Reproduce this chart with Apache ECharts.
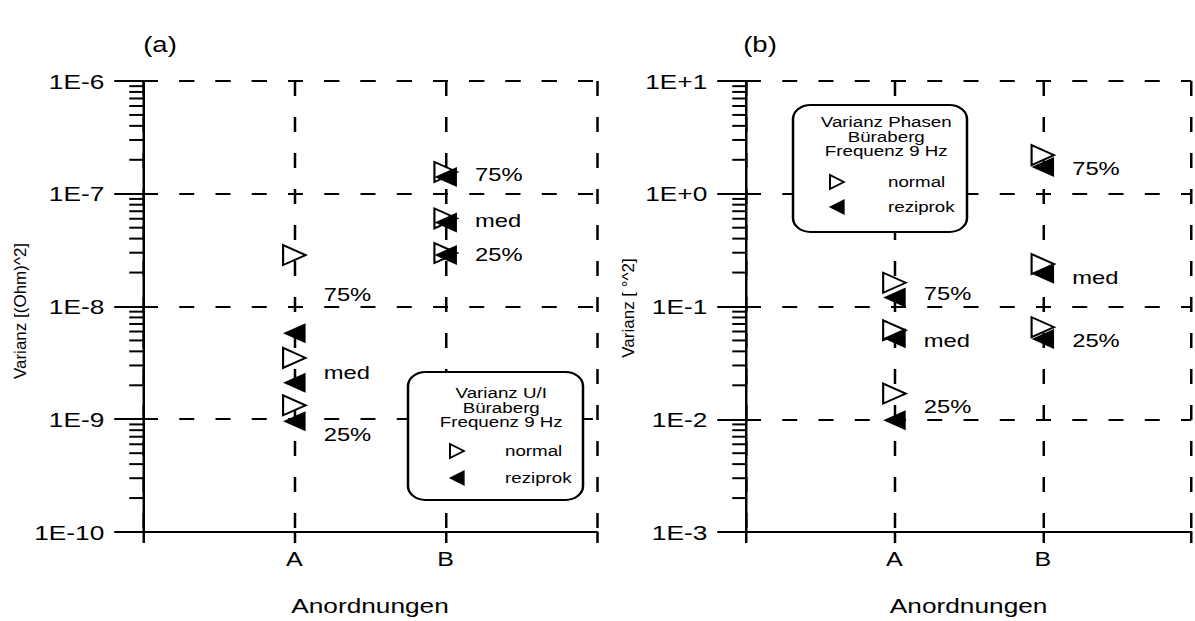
<!DOCTYPE html>
<html>
<head>
<meta charset="utf-8">
<script src="https://cdn.jsdelivr.net/npm/echarts@6/dist/echarts.min.js"></script>
<style>
  html, body { margin: 0; padding: 0; background: #fff; overflow: hidden; }
  /* the figure is drawn on a narrower canvas and widened horizontally */
  #chart { width: 956px; height: 621px; transform: scaleX(1.25); transform-origin: 0 0; }
</style>
</head>
<body>
<div id="chart"></div>
<script>
// x axis: arrangements at positions 1 and 2, frame ends at 0 and 3
const xTickLabels = ['', 'A', 'B', ''];
const quartiles = ['75%', 'med', '25%'];

// Varianz U/I [(Ohm)^2] — order: 75%, med, 25%
const uiNormalA   = [2.86e-8, 3.5e-9, 1.33e-9];
const uiReziprokA = [5.8e-9, 2.11e-9, 9.6e-10];
const uiNormalB   = [1.56e-7, 6.04e-8, 2.98e-8];
const uiReziprokB = [1.41e-7, 5.57e-8, 2.86e-8];
const uiTagA = [1.36e-8, 2.75e-9, 7.7e-10];
const uiTagB = [1.56e-7, 6.15e-8, 3.03e-8];

// Varianz Phasen [°^2] — order: 75%, med, 25%
const phNormalA   = [0.1625, 0.0615, 0.0169];
const phReziprokA = [0.12, 0.0524, 0.0098];
const phNormalB   = [2.2, 0.238, 0.0655];
const phReziprokB = [1.73, 0.195, 0.0514];
const phTagA = [0.138, 0.0524, 0.0136];
const phTagB = [1.76, 0.191, 0.0524];

// decade labels, bottom to top
const uiTickLabels = ['1E-10', '1E-9', '1E-8', '1E-7', '1E-6'];
const phTickLabels = ['1E-3', '1E-2', '1E-1', '1E+0', '1E+1'];

const FONT = "'Liberation Sans', Arial, Helvetica, sans-serif";
const SX = 1.25; // horizontal widening set in the CSS above

function xAxisFor(g) {
  return {
    type: 'value', gridIndex: g, min: 0, max: 3, interval: 1,
    axisLine: { show: true, onZero: false, lineStyle: { color: '#000', width: 2 } },
    axisTick: { show: true, length: 11, lineStyle: { color: '#000', width: 2 } },
    axisLabel: { margin: 17, color: '#000', fontSize: 20, fontFamily: FONT,
      formatter: v => xTickLabels[Math.round(v)] || '' },
    splitLine: { show: true, lineStyle: { color: '#000', width: 2, type: [15, 21] } },
    name: 'Anordnungen', nameLocation: 'middle', nameGap: 63,
    nameTextStyle: { color: '#000', fontSize: 21, fontFamily: FONT }
  };
}

function yAxisFor(g, min, max, labels) {
  const e0 = Math.round(Math.log10(min));
  return {
    type: 'log', logBase: 10, gridIndex: g, min: min, max: max,
    axisLine: { show: true, onZero: false, lineStyle: { color: '#000', width: 2 } },
    axisTick: { show: true, length: 23, lineStyle: { color: '#000', width: 2 } },
    minorTick: { show: false },
    axisLabel: { margin: 31, color: '#000', fontSize: 21, fontFamily: FONT,
      formatter: v => labels[Math.round(Math.log10(v)) - e0] || '' },
    splitLine: { show: true, lineStyle: { color: '#000', width: 2, type: [12, 17] } }
  };
}

// short ticks at 2..9 of every decade
function minorTickSeries(g, min, max) {
  const data = [];
  const lo = Math.round(Math.log10(min)), hi = Math.round(Math.log10(max));
  for (let e = lo; e < hi; e++) {
    for (let k = 2; k <= 9; k++) data.push([0, k * Math.pow(10, e)]);
  }
  return {
    type: 'custom', xAxisIndex: g, yAxisIndex: g, data: data, silent: true, clip: false, z: 5,
    renderItem: (params, api) => {
      const c = api.coord([api.value(0), api.value(1)]);
      return { type: 'line', shape: { x1: c[0] - 11, y1: c[1], x2: c[0], y2: c[1] },
               style: { stroke: '#000', lineWidth: 2 } };
    }
  };
}

function markerSeries(g, name, a, b, filled) {
  return {
    type: 'scatter', name: name, xAxisIndex: g, yAxisIndex: g,
    data: a.map(v => [1, v]).concat(b.map(v => [2, v])),
    symbol: 'triangle', symbolSize: [20, 18], symbolRotate: filled ? 90 : -90,
    itemStyle: filled ? { color: '#000', opacity: 1 }
                      : { color: '#fff', borderColor: '#000', borderWidth: 1.8, opacity: 1 },
    emphasis: { disabled: true }, silent: true, clip: false, z: filled ? 4 : 3
  };
}

function tagSeries(g, tagA, tagB) {
  const data = quartiles.map((q, i) => ({ name: q, value: [1, tagA[i]] }))
    .concat(quartiles.map((q, i) => ({ name: q, value: [2, tagB[i]] })));
  return {
    type: 'scatter', xAxisIndex: g, yAxisIndex: g, data: data,
    symbolSize: 1, itemStyle: { color: 'rgba(255,255,255,0)' }, silent: true, clip: false, z: 6,
    emphasis: { disabled: true },
    label: { show: true, position: 'right', distance: 23, offset: [0, 3], formatter: '{b}',
             color: '#000', opacity: 1, fontSize: 19, fontFamily: FONT }
  };
}

// legend panel: rounded box, three-line heading, two symbol rows
function legendBox(box, heading, headX, headY, symX, rowY, textX) {
  const els = [];
  els.push({ type: 'rect', z: 100,
    shape: { x: box[0], y: box[1], width: box[2], height: box[3], r: 14 },
    style: { fill: '#fff', stroke: '#000', lineWidth: 2 } });
  els.push({ type: 'text', z: 101, x: headX, y: headY,
    style: { text: heading.join('\n'), font: `15px ${FONT}`, lineHeight: 14.5,
             fill: '#000', align: 'center', verticalAlign: 'middle' } });
  const w = 5.6, h = 7;
  els.push({ type: 'polygon', z: 101,
    shape: { points: [[symX - w, rowY[0] - h], [symX + w, rowY[0]], [symX - w, rowY[0] + h]] },
    style: { fill: '#fff', stroke: '#000', lineWidth: 1.6 } });
  els.push({ type: 'polygon', z: 101,
    shape: { points: [[symX + w, rowY[1] - h], [symX - w, rowY[1]], [symX + w, rowY[1] + h]] },
    style: { fill: '#000', stroke: '#000', lineWidth: 1 } });
  ['normal', 'reziprok'].forEach((s, i) => els.push({ type: 'text', z: 101, x: textX, y: rowY[i],
    style: { text: s, font: `15px ${FONT}`, fill: '#000', align: 'left', verticalAlign: 'middle' } }));
  return els;
}

// rotated axis title; its glyph height is narrowed so the page widening leaves it unstretched
function verticalTitle(text, x, y) {
  return { type: 'text', z: 101, x: x, y: y, rotation: Math.PI / 2, scaleY: 1 / SX,
    style: { text: text, font: `17px ${FONT}`, fill: '#000', align: 'center', verticalAlign: 'middle' } };
}

const chart = echarts.init(document.getElementById('chart'), null, { renderer: 'svg' });

chart.setOption({
  backgroundColor: '#fff',
  animation: false,
  grid: [
    { left: 114.4, top: 81, width: 363.2, height: 456 },
    { left: 596.8, top: 81, width: 363.2, height: 456 }
  ],
  xAxis: [xAxisFor(0), xAxisFor(1)],
  yAxis: [
    yAxisFor(0, 1e-10, 1e-6, uiTickLabels),
    yAxisFor(1, 1e-3, 1e1, phTickLabels)
  ],
  series: [
    minorTickSeries(0, 1e-10, 1e-6),
    minorTickSeries(1, 1e-3, 1e1),
    markerSeries(0, 'normal', uiNormalA, uiNormalB, false),
    markerSeries(0, 'reziprok', uiReziprokA, uiReziprokB, true),
    markerSeries(1, 'normal', phNormalA, phNormalB, false),
    markerSeries(1, 'reziprok', phReziprokA, phReziprokB, true),
    tagSeries(0, uiTagA, uiTagB),
    tagSeries(1, phTagA, phTagB)
  ],
  graphic: { elements: [
    { type: 'text', z: 101, x: 128, y: 44,
      style: { text: '(a)', font: `22px ${FONT}`, fill: '#000', align: 'center', verticalAlign: 'middle' } },
    { type: 'text', z: 101, x: 608, y: 44,
      style: { text: '(b)', font: `22px ${FONT}`, fill: '#000', align: 'center', verticalAlign: 'middle' } },
    verticalTitle('Varianz [(Ohm)^2]', 16.4, 311),
    verticalTitle('Varianz [ °^2]', 502.4, 308),
    ...legendBox([326.4, 372, 140, 128], ['Varianz U/I', 'Büraberg', 'Frequenz 9 Hz'],
      401, 408, 365.6, [451, 478], 404),
    ...legendBox([634.4, 105, 139.2, 127], ['Varianz Phasen', 'Büraberg', 'Frequenz 9 Hz'],
      709, 137, 669.6, [182, 207], 710.4)
  ] }
});
</script>
</body>
</html>
